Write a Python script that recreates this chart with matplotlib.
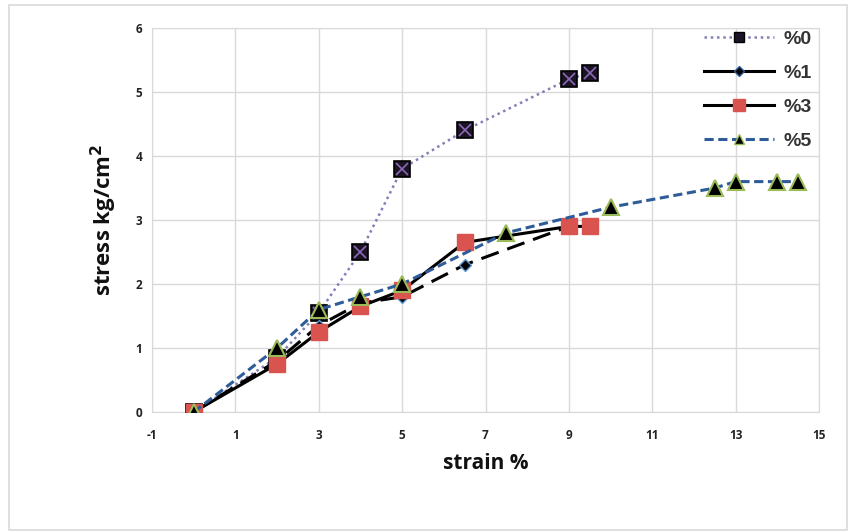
import matplotlib.pyplot as plt
from matplotlib.patches import Rectangle
from matplotlib.lines import Line2D

# strain (%) and stress (kg/cm2)
strain_0 = [0, 2, 3, 4, 5, 6.5, 9, 9.5]
stress_0 = [0, 0.85, 1.55, 2.5, 3.8, 4.4, 5.2, 5.3]

strain_1 = [0, 2, 3, 4, 5, 6.5, 9]
stress_1 = [0, 0.8, 1.35, 1.7, 1.8, 2.3, 2.9]

strain_3 = [0, 2, 3, 4, 5, 6.5, 9, 9.5]
stress_3 = [0, 0.75, 1.25, 1.65, 1.9, 2.65, 2.9, 2.9]

strain_5 = [0, 2, 3, 4, 5, 7.5, 10, 12.5, 13, 14, 14.5]
stress_5 = [0, 1.0, 1.6, 1.8, 2.0, 2.8, 3.2, 3.5, 3.6, 3.6, 3.6]

labels = ['%0', '%1', '%3', '%5']
x_ticks = [-1, 1, 3, 5, 7, 9, 11, 13, 15]
y_ticks = [0, 1, 2, 3, 4, 5, 6]

plt.rcParams['font.family'] = ['Open Sans', 'DejaVu Sans']
plt.rcParams['axes.unicode_minus'] = False

fig = plt.figure(figsize=(8.52, 5.32), dpi=100)
ax = fig.add_axes([152 / 852, 1 - 412 / 532, (819 - 152) / 852, (412 - 28) / 532])

# outer chart border
fig.patches.append(Rectangle((9 / 852, 2 / 532), 838 / 852, 525 / 532, transform=fig.transFigure,
                             fill=False, edgecolor='#d9d9d9', linewidth=1.2))

dot_col = '#8080b8'
ax.plot(strain_0, stress_0, linestyle=(0, (1, 1.5)), color=dot_col, linewidth=1.8,
        marker='s', markersize=12, markerfacecolor='#1c1424', markeredgecolor='black',
        markeredgewidth=1.2, label=labels[0], zorder=3)
ax.plot(strain_0, stress_0, linestyle='none', marker='x', markersize=9, color='#8a6ab8',
        markeredgewidth=1.2, zorder=3)

ax.plot(strain_1, stress_1, linestyle=(0, (6, 3)), color='black', linewidth=2.2,
        marker='D', markersize=6, markerfacecolor='black', markeredgecolor='#5b9bd5',
        markeredgewidth=1.0, label=labels[1], zorder=4)

ax.plot(strain_3, stress_3, linestyle='-', color='black', linewidth=2.2,
        marker='s', markersize=11, markerfacecolor='#d9534f', markeredgecolor='#d9534f',
        label=labels[2], zorder=5)

ax.plot(strain_5, stress_5, linestyle=(0, (3, 1.5)), color='#2e5c99', linewidth=2.2,
        marker='^', markersize=11, markerfacecolor='black', markeredgecolor='#9bbb59',
        markeredgewidth=1.5, label=labels[3], zorder=6)

ax.set_xlim(-1, 15)
ax.set_ylim(0, 6)
ax.set_xticks(x_ticks)
ax.set_yticks(y_ticks)
ax.grid(True, color='#d9d9d9', linewidth=1.0)
ax.set_axisbelow(True)
for s in ax.spines.values():
    s.set_color('#d9d9d9')
ax.tick_params(length=0, labelsize=8.5, pad=12, labelcolor='#222222')
ax.tick_params(axis='y', pad=7)
for t in ax.get_xticklabels() + ax.get_yticklabels():
    t.set_fontweight('bold')

ax.set_xlabel('strain %', fontsize=15, fontweight='bold', labelpad=8, color='#111111')
ax.set_ylabel('stress kg/cm$^\\mathbf{2}$', fontsize=16, fontweight='bold', labelpad=12,
              color='#111111')

# legend proxies, markers are smaller in the legend than on the plot
handles = [
    Line2D([], [], linestyle=(0, (1, 1.5)), color=dot_col, linewidth=1.8, marker='s',
           markersize=7, markerfacecolor='#1c1424', markeredgecolor='black'),
    Line2D([], [], linestyle='-', color='black', linewidth=2.2, marker='D', markersize=5,
           markerfacecolor='black', markeredgecolor='#2e5c99'),
    Line2D([], [], linestyle='-', color='black', linewidth=2.2, marker='s', markersize=9,
           markerfacecolor='#d9534f', markeredgecolor='#d9534f'),
    Line2D([], [], linestyle=(0, (3, 1.5)), color='#2e5c99', linewidth=2.2, marker='^',
           markersize=7, markerfacecolor='black', markeredgecolor='#9bbb59'),
]
leg = ax.legend(handles, labels, loc='upper right', bbox_to_anchor=(1.015, 1.04), frameon=False,
                handlelength=3.6, labelspacing=0.85, handletextpad=0.5,
                prop={'family': 'Liberation Sans', 'weight': 'bold', 'size': 14})
for t in leg.get_texts():
    t.set_color('#333333')

fig.savefig('out.png', dpi=100)
